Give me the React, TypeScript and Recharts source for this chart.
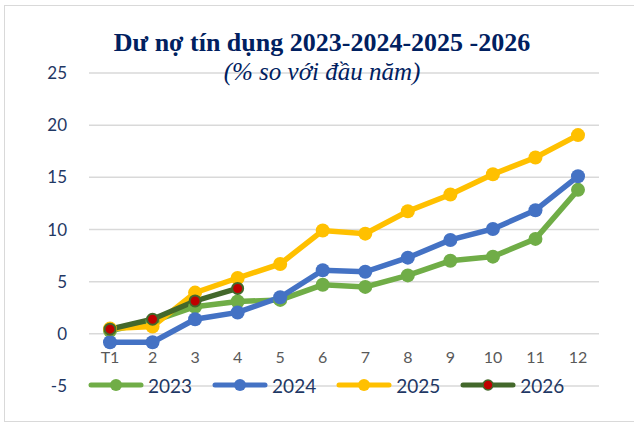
import React from 'react'
import { CartesianGrid, Line, LineChart, XAxis, YAxis } from 'recharts'

const months = ['T1', '2', '3', '4', '5', '6', '7', '8', '9', '10', '11', '12']
const y2023 = [0.3, 1.2, 2.6, 3.1, 3.25, 4.7, 4.5, 5.6, 7.0, 7.4, 9.1, 13.8]
const y2024 = [-0.8, -0.8, 1.4, 2.05, 3.5, 6.1, 5.95, 7.3, 9.0, 10.05, 11.85, 15.1]
const y2025 = [0.5, 0.7, 3.95, 5.35, 6.7, 9.9, 9.6, 11.75, 13.35, 15.3, 16.9, 19.05]
const y2026: (number | null)[] = [0.45, 1.4, 3.15, 4.35, null, null, null, null, null, null, null, null]
const yTicks = [-5, 0, 5, 10, 15, 20, 25]

const NAVY = '#1F3864'
const C2023 = '#70AD47'
const C2024 = '#4472C4'
const C2025 = '#FFC000'
const C2026 = '#43682B'
const RED = '#C00000'

const data = months.map((m, i) => ({
  month: m,
  y2023: y2023[i],
  y2024: y2024[i],
  y2025: y2025[i],
  y2026: y2026[i],
}))

const legendItems = [
  { label: '2023', color: C2023, dot: C2023 },
  { label: '2024', color: C2024, dot: C2024 },
  { label: '2025', color: C2025, dot: C2025 },
  { label: '2026', color: C2026, dot: RED },
]

const font = 'Lato, "Open Sans", sans-serif'
const serif = '"Liberation Serif", "DejaVu Serif", serif'

const renderXTick = (props: any) => {
  const { x, y, payload } = props
  return (
    <text x={x} y={y} dy={-23} textAnchor="middle" fill="#595959" fontSize={16} fontFamily={font}>
      {payload.value}
    </text>
  )
}

export default function App() {
  return (
    <div
      style={{
        position: 'absolute',
        left: 0,
        top: 0,
        width: 634,
        height: 423,
        overflow: 'hidden',
        background: '#fff',
      }}
    >
      <div
        style={{
          position: 'absolute',
          left: 4,
          top: 5,
          width: 640,
          height: 415,
          border: '1.5px solid #D9D9D9',
        }}
      />
      <LineChart
        width={634}
        height={423}
        data={data}
        margin={{ top: 73, right: 35, bottom: 7, left: 0 }}
        style={{ position: 'absolute', left: 0, top: 0 }}
      >
        <CartesianGrid stroke="#D9D9D9" strokeWidth={1.5} vertical={false} />
        <XAxis
          dataKey="month"
          axisLine={false}
          tickLine={false}
          tickSize={0}
          tickMargin={0}
          height={30}
          padding={{ left: 21, right: 21 }}
          interval={0}
          tick={renderXTick}
        />
        <YAxis
          width={89}
          domain={[-5, 25]}
          ticks={yTicks}
          axisLine={false}
          tickLine={false}
          tickSize={0}
          tickMargin={22}
          tick={{ fill: NAVY, fontSize: 17, fontFamily: font }}
        />
        <Line
          dataKey="y2023"
          stroke={C2023}
          strokeWidth={5.5}
          dot={{ r: 7, fill: C2023, stroke: 'none' }}
          isAnimationActive={false}
        />
        <Line
          dataKey="y2024"
          stroke={C2024}
          strokeWidth={5.5}
          dot={{ r: 7, fill: C2024, stroke: 'none' }}
          isAnimationActive={false}
        />
        <Line
          dataKey="y2025"
          stroke={C2025}
          strokeWidth={5.5}
          dot={{ r: 7, fill: C2025, stroke: 'none' }}
          isAnimationActive={false}
        />
        <Line
          dataKey="y2026"
          stroke={C2026}
          strokeWidth={5.5}
          dot={{ r: 5.5, fill: RED, stroke: C2026, strokeWidth: 2 }}
          isAnimationActive={false}
        />
      </LineChart>
      <div
        style={{
          position: 'absolute',
          left: 0,
          top: 27,
          width: 644,
          textAlign: 'center',
          fontFamily: serif,
          fontWeight: 'bold',
          fontSize: 26,
          color: '#002060',
          lineHeight: '32px',
        }}
      >
        Dư nợ tín dụng 2023-2024-2025 -2026
      </div>
      <div
        style={{
          position: 'absolute',
          left: 0,
          top: 57,
          width: 644,
          textAlign: 'center',
          fontFamily: serif,
          fontStyle: 'italic',
          fontSize: 25,
          color: '#002060',
          lineHeight: '30px',
        }}
      >
        (% so với đầu năm)
      </div>
      <div
        style={{
          position: 'absolute',
          left: 88,
          top: 371,
          display: 'flex',
          alignItems: 'center',
          height: 28,
        }}
      >
        {legendItems.map((it) => (
          <div key={it.label} style={{ display: 'flex', alignItems: 'center', marginRight: 20 }}>
            <svg width={56} height={14}>
              <line x1={3} y1={7} x2={53} y2={7} stroke={it.color} strokeWidth={5} strokeLinecap="round" />
              <circle
                cx={28}
                cy={7}
                r={it.label === '2026' ? 5 : 6}
                fill={it.dot}
                stroke={it.label === '2026' ? C2026 : 'none'}
                strokeWidth={1.5}
              />
            </svg>
            <span style={{ marginLeft: 4, fontFamily: font, fontSize: 19, color: NAVY }}>{it.label}</span>
          </div>
        ))}
      </div>
    </div>
  )
}
